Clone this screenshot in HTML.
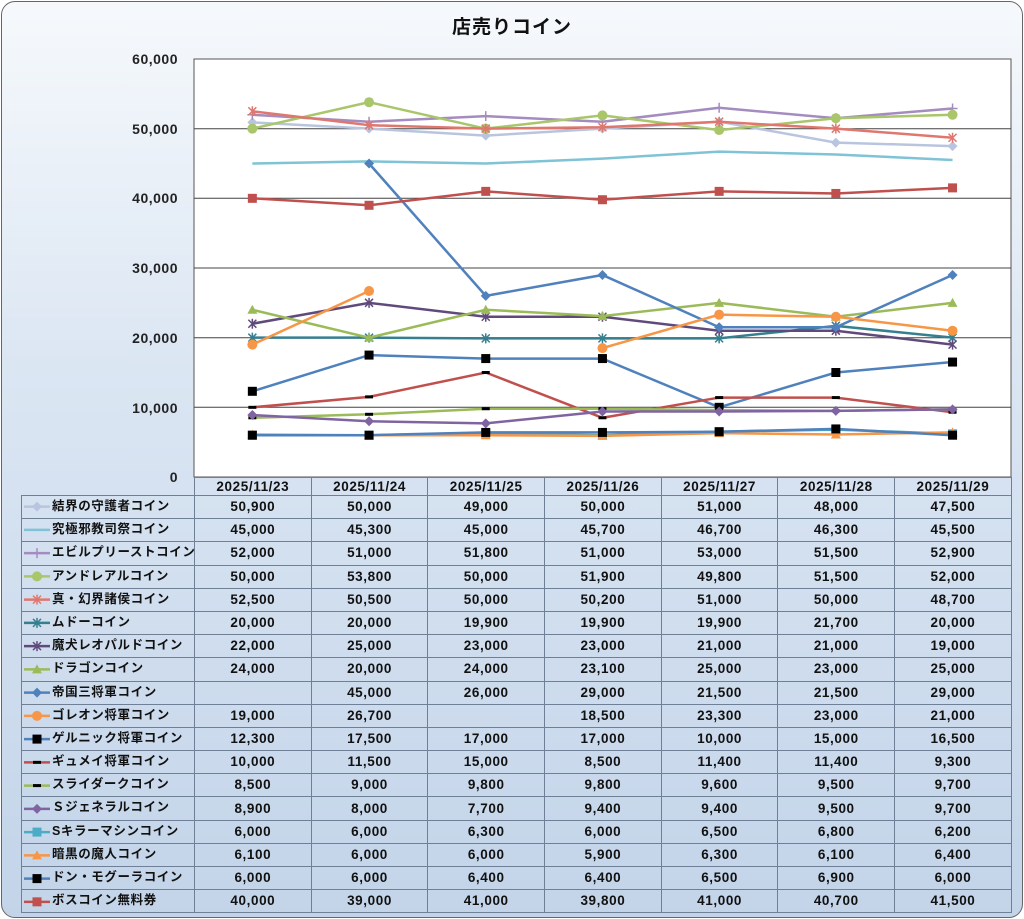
<!DOCTYPE html>
<html><head><meta charset="utf-8">
<style>
html,body{margin:0;padding:0;}
body{width:1024px;height:919px;position:relative;overflow:hidden;background:#fff;font-family:"Liberation Sans","Noto Sans CJK JP",sans-serif;}
#frame{position:absolute;left:1px;top:1px;width:1020px;height:915px;border:1px solid #666;border-radius:14px;background:linear-gradient(#f6f9fc,#dbe6f3 40%,#c3d4e9);}
#title{position:absolute;left:0;width:1024px;top:12px;text-align:center;font-size:19px;font-weight:bold;color:#111;letter-spacing:1px;}
.yl{position:absolute;left:90px;width:88px;text-align:right;font-size:14px;font-weight:bold;color:#222;letter-spacing:0.5px;}
svg{position:absolute;left:0;top:0;}
table{position:absolute;left:21px;top:477px;border-collapse:collapse;font-size:13.5px;font-weight:bold;color:#111;}
td{border:1px solid #6f7f95;height:22.2px;padding:0;text-align:center;letter-spacing:0.6px;white-space:nowrap;line-height:16px;}
tr.h td{height:17px;}
td.n{border:none;}
td.l{width:172px;text-align:left;padding-left:0;position:relative;font-size:12.5px;}
td.l span{position:absolute;left:30px;top:2px;}
td.c{width:115.7px;}
</style></head><body>
<div id="frame"></div>
<div id="title">店売りコイン</div>
<div class="yl" style="top:51px">60,000</div>
<div class="yl" style="top:121px">50,000</div>
<div class="yl" style="top:190px">40,000</div>
<div class="yl" style="top:260px">30,000</div>
<div class="yl" style="top:330px">20,000</div>
<div class="yl" style="top:400px">10,000</div>
<div class="yl" style="top:469px">0</div>
<svg width="1024" height="919" id="s">
<rect x="194" y="59" width="817" height="418" fill="#fff" stroke="#555" stroke-width="1"/>
<g stroke="#444" stroke-width="1">
<line x1="194" x2="1011" y1="128.7" y2="128.7"/><line x1="194" x2="1011" y1="198.3" y2="198.3"/>
<line x1="194" x2="1011" y1="268" y2="268"/><line x1="194" x2="1011" y1="337.7" y2="337.7"/>
<line x1="194" x2="1011" y1="407.3" y2="407.3"/></g>
<g id="g"></g>
</svg>
<table>
<tr class="h"><td class="n"></td><td class="c">2025/11/23</td><td class="c">2025/11/24</td><td class="c">2025/11/25</td><td class="c">2025/11/26</td><td class="c">2025/11/27</td><td class="c">2025/11/28</td><td class="c">2025/11/29</td></tr>
<tr><td class="l"><span>結界の守護者コイン</span></td><td>50,900</td><td>50,000</td><td>49,000</td><td>50,000</td><td>51,000</td><td>48,000</td><td>47,500</td></tr>
<tr><td class="l"><span>究極邪教司祭コイン</span></td><td>45,000</td><td>45,300</td><td>45,000</td><td>45,700</td><td>46,700</td><td>46,300</td><td>45,500</td></tr>
<tr><td class="l"><span>エビルプリーストコイン</span></td><td>52,000</td><td>51,000</td><td>51,800</td><td>51,000</td><td>53,000</td><td>51,500</td><td>52,900</td></tr>
<tr><td class="l"><span>アンドレアルコイン</span></td><td>50,000</td><td>53,800</td><td>50,000</td><td>51,900</td><td>49,800</td><td>51,500</td><td>52,000</td></tr>
<tr><td class="l"><span>真・幻界諸侯コイン</span></td><td>52,500</td><td>50,500</td><td>50,000</td><td>50,200</td><td>51,000</td><td>50,000</td><td>48,700</td></tr>
<tr><td class="l"><span>ムドーコイン</span></td><td>20,000</td><td>20,000</td><td>19,900</td><td>19,900</td><td>19,900</td><td>21,700</td><td>20,000</td></tr>
<tr><td class="l"><span>魔犬レオパルドコイン</span></td><td>22,000</td><td>25,000</td><td>23,000</td><td>23,000</td><td>21,000</td><td>21,000</td><td>19,000</td></tr>
<tr><td class="l"><span>ドラゴンコイン</span></td><td>24,000</td><td>20,000</td><td>24,000</td><td>23,100</td><td>25,000</td><td>23,000</td><td>25,000</td></tr>
<tr><td class="l"><span>帝国三将軍コイン</span></td><td></td><td>45,000</td><td>26,000</td><td>29,000</td><td>21,500</td><td>21,500</td><td>29,000</td></tr>
<tr><td class="l"><span>ゴレオン将軍コイン</span></td><td>19,000</td><td>26,700</td><td></td><td>18,500</td><td>23,300</td><td>23,000</td><td>21,000</td></tr>
<tr><td class="l"><span>ゲルニック将軍コイン</span></td><td>12,300</td><td>17,500</td><td>17,000</td><td>17,000</td><td>10,000</td><td>15,000</td><td>16,500</td></tr>
<tr><td class="l"><span>ギュメイ将軍コイン</span></td><td>10,000</td><td>11,500</td><td>15,000</td><td>8,500</td><td>11,400</td><td>11,400</td><td>9,300</td></tr>
<tr><td class="l"><span>スライダークコイン</span></td><td>8,500</td><td>9,000</td><td>9,800</td><td>9,800</td><td>9,600</td><td>9,500</td><td>9,700</td></tr>
<tr><td class="l"><span>Ｓジェネラルコイン</span></td><td>8,900</td><td>8,000</td><td>7,700</td><td>9,400</td><td>9,400</td><td>9,500</td><td>9,700</td></tr>
<tr><td class="l"><span>Sキラーマシンコイン</span></td><td>6,000</td><td>6,000</td><td>6,300</td><td>6,000</td><td>6,500</td><td>6,800</td><td>6,200</td></tr>
<tr><td class="l"><span>暗黒の魔人コイン</span></td><td>6,100</td><td>6,000</td><td>6,000</td><td>5,900</td><td>6,300</td><td>6,100</td><td>6,400</td></tr>
<tr><td class="l"><span>ドン・モグーラコイン</span></td><td>6,000</td><td>6,000</td><td>6,400</td><td>6,400</td><td>6,500</td><td>6,900</td><td>6,000</td></tr>
<tr><td class="l"><span>ボスコイン無料券</span></td><td>40,000</td><td>39,000</td><td>41,000</td><td>39,800</td><td>41,000</td><td>40,700</td><td>41,500</td></tr>
</table>
<script>
var S=[
["#b9c5df","dia",[50900,50000,49000,50000,51000,48000,47500]],
["#7fc3d6","none",[45000,45300,45000,45700,46700,46300,45500]],
["#a58cc0","plus",[52000,51000,51800,51000,53000,51500,52900]],
["#a9c66b","circ",[50000,53800,50000,51900,49800,51500,52000]],
["#e0776e","x",[52500,50500,50000,50200,51000,50000,48700]],
["#357f8f","x",[20000,20000,19900,19900,19900,21700,20000]],
["#604a7b","x",[22000,25000,23000,23000,21000,21000,19000]],
["#9bbb59","tri",[24000,20000,24000,23100,25000,23000,25000]],
["#4f81bd","dia",[null,45000,26000,29000,21500,21500,29000]],
["#f79646","circ",[19000,26700,null,18500,23300,23000,21000]],
["#4f81bd","bsq",[12300,17500,17000,17000,10000,15000,16500]],
["#c0504d","dash",[10000,11500,15000,8500,11400,11400,9300]],
["#9bbb59","dash",[8500,9000,9800,9800,9600,9500,9700]],
["#8064a2","dia",[8900,8000,7700,9400,9400,9500,9700]],
["#4bacc6","sq",[6000,6000,6300,6000,6500,6800,6200]],
["#f79646","tri",[6100,6000,6000,5900,6300,6100,6400]],
["#4f81bd","bsq",[6000,6000,6400,6400,6500,6900,6000]],
["#c0504d","sq",[40000,39000,41000,39800,41000,40700,41500]]];
var g=document.getElementById('g'),h="";
function X(i){return 194+58.35+i*116.7}function Y(v){return 477-v*418/60000}
function mk(t,x,y,c){switch(t){
case"dia":return '<path d="M'+x+' '+(y-5)+'L'+(x+5)+' '+y+'L'+x+' '+(y+5)+'L'+(x-5)+' '+y+'Z" fill="'+c+'"/>';
case"circ":return '<circle cx="'+x+'" cy="'+y+'" r="5" fill="'+c+'"/>';
case"tri":return '<path d="M'+x+' '+(y-5)+'L'+(x+5)+' '+(y+4)+'L'+(x-5)+' '+(y+4)+'Z" fill="'+c+'"/>';
case"sq":return '<rect x="'+(x-4.5)+'" y="'+(y-4.5)+'" width="9" height="9" fill="'+c+'"/>';
case"bsq":return '<rect x="'+(x-4.5)+'" y="'+(y-4.5)+'" width="9" height="9" fill="#000"/>';
case"dash":return '<rect x="'+(x-4)+'" y="'+(y-1.5)+'" width="8" height="3" fill="#000"/>';
case"plus":return '<path d="M'+(x-5)+' '+y+'H'+(x+5)+'M'+x+' '+(y-5)+'V'+(y+5)+'" stroke="'+c+'" stroke-width="1.5"/>';
case"x":return '<path d="M'+(x-4)+' '+(y-4)+'L'+(x+4)+' '+(y+4)+'M'+(x+4)+' '+(y-4)+'L'+(x-4)+' '+(y+4)+'M'+x+' '+(y-5)+'V'+(y+5)+'" stroke="'+c+'" stroke-width="1.5"/>';
}return""}
S.forEach(function(s,k){var d="",p=false;s[2].forEach(function(v,i){if(v==null){p=false;return}d+=(p?"L":"M")+X(i)+" "+Y(v);p=true});
h+='<path d="'+d+'" fill="none" stroke="'+s[0]+'" stroke-width="2.5"/>';
s[2].forEach(function(v,i){if(v!=null)h+=mk(s[1],X(i),Y(v),s[0])});
var ly=495+k*23.25+11.6;h+='<line x1="24" x2="50" y1="'+ly+'" y2="'+ly+'" stroke="'+s[0]+'" stroke-width="2.5"/>'+mk(s[1],37,ly,s[0]);});
g.innerHTML=h;
</script>
</body></html>
